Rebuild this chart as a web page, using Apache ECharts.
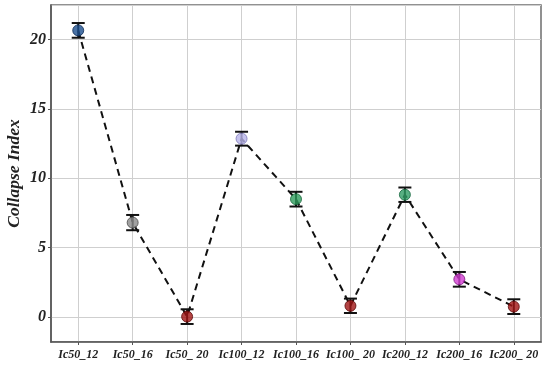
<!DOCTYPE html>
<html>
<head>
<meta charset="utf-8">
<script src="https://cdn.jsdelivr.net/npm/echarts@6/dist/echarts.min.js"></script>
<style>
  html, body { margin: 0; padding: 0; background: #fff; }
  #chart_wrap { width: 550px; height: 367px; }
</style>
</head>
<body>
<div id="chart_wrap"></div>
<script>
var categories = ['Ic50_12', 'Ic50_16', 'Ic50_ 20', 'Ic100_12', 'Ic100_16', 'Ic100_ 20', 'Ic200_12', 'Ic200_16', 'Ic200_ 20'];
var collapseIndex = [20.67, 6.81, 0.03, 12.86, 8.50, 0.81, 8.82, 2.72, 0.75];
var errors = [0.53, 0.55, 0.53, 0.50, 0.53, 0.52, 0.52, 0.53, 0.53];
var pointColors = ['#1c4f8f', '#8a8a8a', '#a01414', '#b8b4ea', '#2e9c5c', '#a01414', '#2e9c64', '#d23cd2', '#a01414'];
var borderColors = ['#0d2a55', '#4a4a4a', '#5a0808', '#7d78b8', '#17663a', '#5a0808', '#17663e', '#7e1a7e', '#5a0808'];

var chart = echarts.init(document.getElementById('chart_wrap'));
var font = 'Liberation Serif';

var barData = [];
var pointData = [];
for (var i = 0; i < categories.length; i++) {
    barData.push([i, collapseIndex[i] - errors[i], collapseIndex[i] + errors[i]]);
    pointData.push({
        value: collapseIndex[i],
        itemStyle: { color: pointColors[i], borderColor: borderColors[i], borderWidth: 1 }
    });
}

var option = {
    backgroundColor: '#fff',
    animation: false,
    grid: {
        left: 51, right: 9, top: 5, bottom: 25,
        containLabel: false,
        outerBoundsMode: 'none',
        show: true,
        borderColor: '#6e6e6e',
        borderWidth: 1.5
    },
    xAxis: {
        type: 'category',
        data: categories,
        boundaryGap: true,
        axisLine: { onZero: false, lineStyle: { color: '#555', width: 1.5 } },
        axisTick: { show: true, alignWithLabel: true, length: 3, lineStyle: { color: '#555' } },
        axisLabel: {
            color: '#222', fontFamily: font, fontStyle: 'italic', fontWeight: 'bold',
            fontSize: 12, margin: 7, interval: 0
        },
        splitLine: { show: true, alignWithLabel: true, lineStyle: { color: '#cfcfcf', width: 1 } }
    },
    yAxis: {
        type: 'value',
        min: -1.8,
        max: 22.5,
        splitNumber: 5,
        name: 'Collapse Index',
        nameLocation: 'middle',
        nameGap: 28,
        nameMoveOverlap: false,
        nameTextStyle: {
            color: '#222', fontFamily: font, fontStyle: 'italic', fontWeight: 'bold', fontSize: 17.5
        },
        axisLine: { show: true, lineStyle: { color: '#555', width: 1.5 } },
        axisTick: { show: true, length: 3, lineStyle: { color: '#555' } },
        axisLabel: {
            color: '#222', fontFamily: font, fontStyle: 'italic', fontWeight: 'bold',
            fontSize: 16, margin: 5, showMinLabel: false, showMaxLabel: false
        },
        splitLine: { show: true, lineStyle: { color: '#cfcfcf', width: 1 } }
    },
    series: [
        {
            name: 'line',
            type: 'line',
            data: collapseIndex,
            symbol: 'none',
            z: 2,
            lineStyle: { color: '#111', width: 2, type: [7, 5] }
        },
        {
            name: 'error',
            type: 'custom',
            z: 3,
            data: barData,
            renderItem: function (params, api) {
                var x = api.value(0);
                var lo = api.coord([x, api.value(1)]);
                var hi = api.coord([x, api.value(2)]);
                var hw = 6.5;
                var st = { stroke: '#111', lineWidth: 2, fill: null };
                return {
                    type: 'group',
                    children: [
                        { type: 'line', shape: { x1: lo[0], y1: lo[1], x2: hi[0], y2: hi[1] }, style: st },
                        { type: 'line', shape: { x1: lo[0] - hw, y1: lo[1], x2: lo[0] + hw, y2: lo[1] }, style: st },
                        { type: 'line', shape: { x1: hi[0] - hw, y1: hi[1], x2: hi[0] + hw, y2: hi[1] }, style: st }
                    ]
                };
            }
        },
        {
            name: 'points',
            type: 'scatter',
            z: 4,
            symbolSize: 11,
            data: pointData
        }
    ]
};
chart.setOption(option);
</script>
</body>
</html>
